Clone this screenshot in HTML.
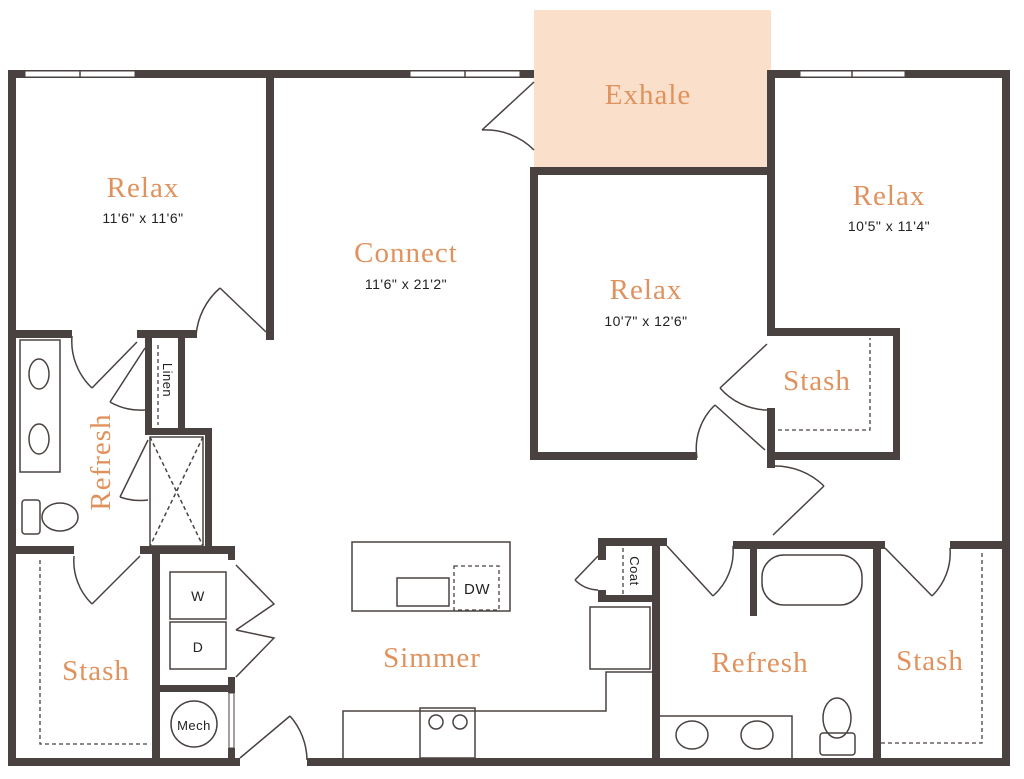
<!DOCTYPE html>
<html><head><meta charset="utf-8"><style>
html,body{margin:0;padding:0;background:#fff;}
svg{display:block}
.w{fill:#4a4240}
.l{fill:none;stroke:#4a4240;stroke-width:1.5}
.d{fill:none;stroke:#4a4240;stroke-width:1.3;stroke-dasharray:4 3}
.t{font-family:"Liberation Serif",serif;fill:#e0925e;text-anchor:middle;letter-spacing:1px}
.s{font-family:"Liberation Sans",sans-serif;fill:#222;text-anchor:middle;font-size:14px;letter-spacing:0.5px}
</style></head><body>
<svg width="1024" height="779" viewBox="0 0 1024 779" xmlns="http://www.w3.org/2000/svg">
<rect x="534" y="10" width="237" height="160" fill="#fadfca"/>
<rect class="w" x="8" y="70" width="526" height="8"/>
<rect class="w" x="767" y="70" width="243" height="8"/>
<rect class="w" x="8" y="70" width="8" height="696"/>
<rect class="w" x="1002" y="70" width="8" height="696"/>
<rect class="w" x="8" y="758" width="232" height="8"/>
<rect class="w" x="307" y="758" width="703" height="8"/>
<g fill="#fff" stroke="#4a4240" stroke-width="1">
<rect x="25" y="71" width="110" height="6"/><rect x="410" y="71" width="110" height="6"/>
<rect x="800" y="71" width="105" height="6"/><rect x="598" y="168" width="107" height="6"/>
</g>
<line class="l" x1="80" y1="71" x2="80" y2="77"/><line class="l" x1="465" y1="71" x2="465" y2="77"/>
<line class="l" x1="852" y1="71" x2="852" y2="77"/><line class="l" x1="651" y1="168" x2="651" y2="174"/>
<rect class="w" x="266" y="78" width="8" height="262"/>
<rect class="w" x="16" y="330" width="56" height="8"/>
<rect class="w" x="137" y="330" width="60" height="8"/>
<rect class="w" x="145" y="330" width="7" height="105"/>
<rect class="w" x="178" y="330" width="7" height="105"/>
<rect class="w" x="145" y="428" width="67" height="7"/>
<rect class="w" x="205" y="428" width="7" height="120"/>
<rect class="w" x="16" y="546" width="58" height="8"/>
<rect class="w" x="140" y="546" width="95" height="8"/>
<rect class="w" x="152" y="548" width="8" height="214"/>
<rect class="w" x="228" y="548" width="7" height="12"/>
<rect class="w" x="228" y="677" width="7" height="16"/>
<rect class="w" x="152" y="685" width="83" height="7"/>
<rect class="w" x="228" y="748" width="7" height="12"/>
<rect x="229" y="693" width="5" height="55" fill="#fff" stroke="#4a4240" stroke-width="1"/>
<rect class="w" x="530" y="167" width="241" height="8"/>
<rect class="w" x="530" y="167" width="8" height="293"/>
<rect class="w" x="530" y="452" width="167" height="8"/>
<rect class="w" x="767" y="78" width="8" height="258"/>
<rect class="w" x="767" y="328" width="133" height="8"/>
<rect class="w" x="893" y="328" width="7" height="132"/>
<rect class="w" x="767" y="452" width="133" height="8"/>
<rect class="w" x="767" y="408" width="8" height="60"/>
<rect class="w" x="733" y="541" width="152" height="8"/>
<rect class="w" x="950" y="541" width="56" height="8"/>
<rect class="w" x="750" y="541" width="7" height="75"/>
<rect class="w" x="873" y="541" width="8" height="217"/>
<rect class="w" x="652" y="538" width="8" height="224"/>
<rect class="w" x="598" y="538" width="69" height="8"/>
<rect class="w" x="598" y="538" width="8" height="22"/>
<rect class="w" x="598" y="590" width="8" height="12"/>
<rect class="w" x="598" y="595" width="60" height="7"/>
<g class="l">
<path d="M534 82 L482 130 M534 150 A68 68 0 0 0 482 130"/>
<path d="M266 332 L220 288 M196 336 A70 70 0 0 1 220 288"/>
<path d="M137 342 L92 388 M72 336 A64 64 0 0 0 92 388"/>
<path d="M145 348 L110 402 M145 410 A62 62 0 0 1 110 402"/>
<path d="M148 440 L120 497 M148 500 A60 60 0 0 1 120 497"/>
<path d="M140 556 L92 604 M74 556 A60 60 0 0 0 92 604"/>
<path d="M236 565 L274 604 L236 630 M236 677 L274 638 L236 630"/>
<path d="M240 758 L290 716 M307 760 A68 68 0 0 0 290 716"/>
<path d="M767 344 L720 388 M767 410 A64 64 0 0 1 720 388"/>
<path d="M765 450 L715 405 M697 458 A60 60 0 0 1 715 405"/>
<path d="M773 535 L824 486 M773 466 A70 70 0 0 1 824 486"/>
<path d="M598 556 L575 580 M598 590 A34 34 0 0 1 575 580"/>
<path d="M667 546 L713 596 M733 546 A60 60 0 0 1 713 596"/>
<path d="M885 548 L932 596 M950 548 A60 60 0 0 1 932 596"/>
</g>
<g class="l">
<rect x="20" y="340" width="40" height="132"/>
<ellipse cx="39" cy="374" rx="10" ry="15"/><ellipse cx="39" cy="439" rx="10" ry="15"/>
<rect x="22" y="500" width="18" height="34" rx="3"/><ellipse cx="60" cy="517" rx="18" ry="14"/>
<rect x="150" y="437" width="53" height="109"/>
<line x1="150" y1="437" x2="203" y2="546" stroke-dasharray="4 3"/><line x1="203" y1="437" x2="150" y2="546" stroke-dasharray="4 3"/>
<rect x="170" y="572" width="56" height="47"/><rect x="170" y="622" width="56" height="47"/>
<circle cx="194" cy="724" r="23"/>
<rect x="352" y="542" width="158" height="69"/>
<rect x="397" y="578" width="52" height="28"/>
<path d="M343 758 V711 H606 V672 H652"/>
<rect x="420" y="708" width="55" height="50"/>
<circle cx="436" cy="722" r="7"/><circle cx="460" cy="722" r="7"/>
<rect x="590" y="607" width="60" height="62"/>
<rect x="762" y="555" width="100" height="50" rx="22"/>
<path d="M660 716 H792 V758"/>
<ellipse cx="692" cy="735" rx="16" ry="14"/><ellipse cx="757" cy="735" rx="16" ry="14"/>
<ellipse cx="837" cy="718" rx="14" ry="20"/><rect x="820" y="733" width="35" height="22" rx="3"/>
</g>
<g class="d">
<line x1="158" y1="345" x2="158" y2="425"/>
<path d="M40 560 V744 H150"/>
<rect x="454" y="566" width="45" height="44"/>
<line x1="623" y1="548" x2="623" y2="594"/>
<path d="M778 430 H870 V338"/>
<path d="M881 743 H982 V552"/>
</g>
<g class="t" font-size="29">
<text x="143" y="197">Relax</text>
<text x="406" y="262">Connect</text>
<text x="646" y="299">Relax</text>
<text x="889" y="205">Relax</text>
<text x="648" y="104">Exhale</text>
<text x="817" y="390">Stash</text>
<text x="96" y="680">Stash</text>
<text x="432" y="667">Simmer</text>
<text x="760" y="672">Refresh</text>
<text x="930" y="670">Stash</text>
<text transform="translate(110,462) rotate(-90)">Refresh</text>
</g>
<g class="s">
<text x="143" y="223">11'6" x 11'6"</text>
<text x="406" y="289">11'6" x 21'2"</text>
<text x="646" y="326">10'7" x 12'6"</text>
<text x="889" y="231">10'5" x 11'4"</text>
<text x="198" y="601">W</text><text x="198" y="652">D</text>
<text x="194" y="730" font-size="13">Mech</text>
<text x="477" y="594" font-size="15">DW</text>
<text transform="translate(163,380) rotate(90)" font-size="13">Linen</text>
<text transform="translate(630,571) rotate(90)" font-size="13">Coat</text>
</g>
</svg>
</body></html>
